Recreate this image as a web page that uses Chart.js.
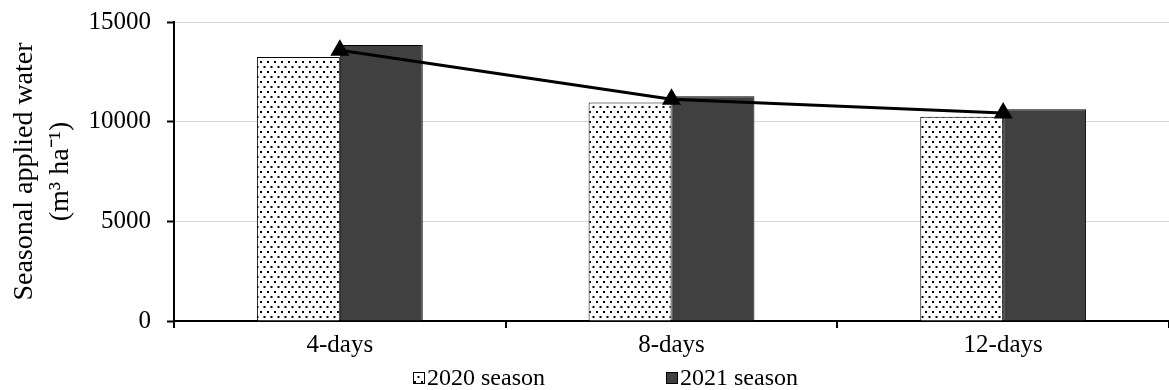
<!DOCTYPE html>
<html>
<head>
<meta charset="utf-8">
<script src="https://cdn.jsdelivr.net/npm/chart.js@4"></script>
<style>
  html, body { margin: 0; padding: 0; background: #fff; overflow: hidden; }
  #wrap { width: 1180px; height: 390px; }
</style>
</head>
<body>
<div id="wrap"><canvas id="waterChart" width="1180" height="390"></canvas></div>
<script>
// datos
const categories = ["4-days", "8-days", "12-days"];
const season2020 = [13250, 10960, 10250];
const season2021 = [13850, 11280, 10620];
const meanWater = [13580, 11130, 10430];
const yTicks = [0, 5000, 10000, 15000];

const serif = "'Liberation Serif', 'Times New Roman', serif";

// patrón de puntos para la temporada 2020
function dotPattern() {
    const c = document.createElement("canvas");
    c.width = 7;
    c.height = 10;
    const g = c.getContext("2d");
    g.fillStyle = "#fff";
    g.fillRect(0, 0, 7, 10);
    g.fillStyle = "#000";
    g.fillRect(1, 1, 2, 2);
    g.fillRect(4.5, 6, 2, 2);
    return g.createPattern(c, "repeat");
}
const dots = dotPattern();

// leyenda propia: caja pequeña pegada al texto, elementos separados
const bottomLegend = {
    id: "bottomLegend",
    afterDraw(chart) {
        const g = chart.ctx;
        const items = chart.data.datasets.filter(d => d.type !== "line");
        let x = 413;
        const yMid = 378;
        g.save();
        g.font = "24px " + serif;
        g.textBaseline = "middle";
        items.forEach(d => {
            g.fillStyle = d.backgroundColor;
            g.fillRect(x, yMid - 6, 12, 12);
            g.strokeStyle = "#000";
            g.lineWidth = 1;
            g.strokeRect(x + 0.5, yMid - 5.5, 11, 11);
            g.fillStyle = "#000";
            g.fillText(d.label, x + 14, yMid + 1);
            x += 253;
        });
        g.restore();
    }
};

const ctx = document.getElementById("waterChart").getContext("2d");
new Chart(ctx, {
    type: "bar",
    data: {
        labels: categories,
        datasets: [
            {
                type: "line",
                label: "mean",
                data: meanWater,
                borderColor: "#000",
                backgroundColor: "#000",
                borderWidth: 3,
                pointStyle: "triangle",
                pointRadius: 8,
                pointBackgroundColor: "#000",
                pointBorderColor: "#000",
                tension: 0,
                order: 0
            },
            {
                label: "2020 season",
                data: season2020,
                backgroundColor: dots,
                borderColor: "#000",
                borderWidth: 1,
                categoryPercentage: 0.5,
                barPercentage: 1,
                order: 1
            },
            {
                label: "2021 season",
                data: season2021,
                backgroundColor: "#404040",
                borderColor: "#000",
                borderWidth: 1,
                categoryPercentage: 0.5,
                barPercentage: 1,
                order: 1
            }
        ]
    },
    plugins: [bottomLegend],
    options: {
        responsive: false,
        animation: false,
        layout: { padding: { top: 22, right: 4, left: 6, bottom: 31 } },
        plugins: {
            tooltip: { enabled: false },
            legend: { display: false }
        },
        scales: {
            x: {
                grid: { display: true, drawOnChartArea: false, tickLength: 7, color: "#000", lineWidth: 2 },
                border: { color: "#000", width: 2 },
                ticks: { color: "#000", padding: 2, font: { family: serif, size: 25 } },
                afterFit: scale => { scale.height = 38; }
            },
            y: {
                min: 0,
                max: 15000,
                afterBuildTicks: scale => { scale.ticks = yTicks.map(v => ({ value: v })); },
                grid: { color: "#d9d9d9", lineWidth: 1, tickLength: 7, tickColor: "#000", tickWidth: 2 },
                border: { color: "#000", width: 2 },
                ticks: { color: "#000", padding: 16, font: { family: serif, size: 25 }, callback: v => String(v) },
                title: {
                    display: true,
                    text: ["Seasonal applied water", "(m\u00B3 ha\u207B\u00B9)"],
                    color: "#000",
                    font: { family: serif, size: 28, lineHeight: 1.3 },
                    padding: { top: 0, bottom: 0 }
                },
                afterFit: scale => {
                    scale.width = 168;
                    scale.paddingTop = 0;
                    scale.paddingBottom = 0;
                }
            }
        }
    }
});
</script>
</body>
</html>
